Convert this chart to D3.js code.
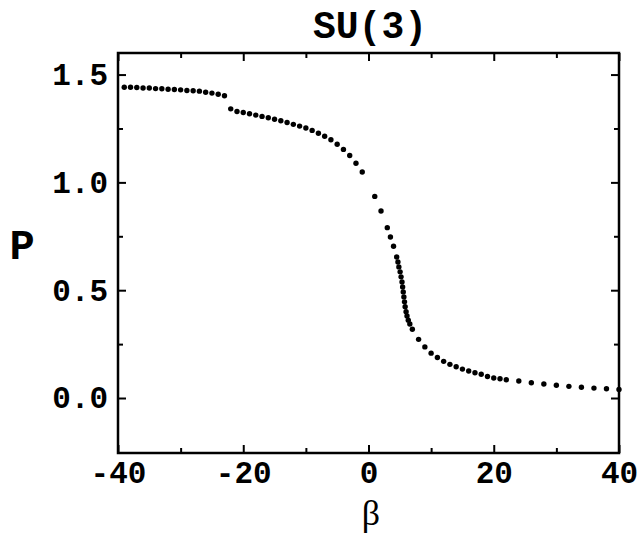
<!DOCTYPE html>
<html>
<head>
<meta charset="utf-8">
<script src="https://cdn.jsdelivr.net/npm/d3@7"></script>
<style>
  body { margin: 0; background: #fff; }
  svg { display: block; }
</style>
</head>
<body>
<svg id="chart" width="638" height="535"></svg>
<script>
// beta (coupling) and P (plaquette) values
var betaValues = [
    -39, -38, -37, -36, -35, -34, -33, -32, -31, -30, -29, -28, -27, -26, -25, -24, -23,
    -22, -21, -20, -19, -18, -17, -16, -15, -14, -13, -12, -11, -10, -9, -8, -7, -6, -5, -4, -3, -2, -1,
    1, 2, 3, 3.5, 4,
    4.5, 4.7, 4.85, 5.05, 5.2, 5.35, 5.45, 5.55, 5.65, 5.75, 5.85, 6.0, 6.15, 6.35, 6.6, 7,
    8, 9, 10, 11, 12, 13, 14, 15, 16, 17, 18, 19, 20, 21, 22,
    24, 26, 28, 30, 32, 34, 36, 38, 40
];
var pValues = [
    1.441, 1.441, 1.440, 1.438, 1.438, 1.435, 1.434, 1.432, 1.431, 1.429, 1.426, 1.425, 1.423, 1.418, 1.414, 1.409, 1.402,
    1.341, 1.329, 1.324, 1.318, 1.312, 1.306, 1.300, 1.293, 1.286, 1.278, 1.269, 1.261, 1.252, 1.241, 1.228, 1.214, 1.198, 1.177, 1.153, 1.125, 1.089, 1.048,
    0.935, 0.867, 0.790, 0.747, 0.704,
    0.654, 0.631, 0.608, 0.585, 0.562, 0.538, 0.515, 0.492, 0.469, 0.446, 0.423, 0.400, 0.380, 0.361, 0.343, 0.319,
    0.272, 0.237, 0.208, 0.188, 0.170, 0.156, 0.145, 0.134, 0.125, 0.117, 0.110, 0.100, 0.093, 0.089, 0.085,
    0.079, 0.071, 0.065, 0.059, 0.054, 0.050, 0.046, 0.043, 0.040
];

var xMajorTicks = [-40, -20, 0, 20, 40];
var xMinorTicks = [-30, -10, 10, 30];
var yMajorTicks = [0.0, 0.5, 1.0, 1.5];
var yMinorTicks = [0.25, 0.75, 1.25];

var chartTitle = "SU(3)";
var xLabel = "\u03b2";
var yLabel = "P";

var svg = d3.select("#chart");
var plotLeft = 118, plotRight = 619, plotTop = 53, plotBottom = 453;

var xScale = d3.scaleLinear().domain([-40, 40]).range([plotLeft, plotRight]);
var yScale = d3.scaleLinear().domain([-0.255, 1.6]).range([plotBottom, plotTop]);

var tickFont = "'Liberation Mono', 'Courier New', monospace";

function styleAxis(g) {
    g.select(".domain").remove();
    g.selectAll(".tick line").attr("stroke", "black").attr("stroke-width", 2);
    g.selectAll("text")
        .style("font-family", tickFont)
        .style("font-weight", "bold")
        .style("font-size", "31px")
        .attr("fill", "black");
}

// bottom axis, ticks pointing inward
svg.append("g")
    .attr("transform", "translate(0," + plotBottom + ")")
    .call(d3.axisBottom(xScale).tickValues(xMajorTicks).tickSize(-8).tickPadding(8)
        .tickFormat(function (d) { return d < 0 ? "-" + Math.abs(d) : d; }))
    .call(styleAxis);
svg.append("g")
    .attr("transform", "translate(0," + plotBottom + ")")
    .call(d3.axisBottom(xScale).tickValues(xMinorTicks).tickSize(-5).tickFormat(""))
    .call(styleAxis);
// top axis, no labels
svg.append("g")
    .attr("transform", "translate(0," + plotTop + ")")
    .call(d3.axisTop(xScale).tickValues(xMajorTicks).tickSize(-8).tickFormat(""))
    .call(styleAxis);
svg.append("g")
    .attr("transform", "translate(0," + plotTop + ")")
    .call(d3.axisTop(xScale).tickValues(xMinorTicks).tickSize(-5).tickFormat(""))
    .call(styleAxis);

// left axis
svg.append("g")
    .attr("transform", "translate(" + plotLeft + ",0)")
    .call(d3.axisLeft(yScale).tickValues(yMajorTicks).tickSize(-8).tickPadding(10)
        .tickFormat(d3.format(".1f")))
    .call(styleAxis);
svg.append("g")
    .attr("transform", "translate(" + plotLeft + ",0)")
    .call(d3.axisLeft(yScale).tickValues(yMinorTicks).tickSize(-5).tickFormat(""))
    .call(styleAxis);
// right axis
svg.append("g")
    .attr("transform", "translate(" + plotRight + ",0)")
    .call(d3.axisRight(yScale).tickValues(yMajorTicks).tickSize(-8).tickFormat(""))
    .call(styleAxis);
svg.append("g")
    .attr("transform", "translate(" + plotRight + ",0)")
    .call(d3.axisRight(yScale).tickValues(yMinorTicks).tickSize(-5).tickFormat(""))
    .call(styleAxis);

// frame
svg.append("rect")
    .attr("x", plotLeft)
    .attr("y", plotTop)
    .attr("width", plotRight - plotLeft)
    .attr("height", plotBottom - plotTop)
    .attr("fill", "none")
    .attr("stroke", "black")
    .attr("stroke-width", 2.5);

// data points
svg.append("g")
    .selectAll("circle")
    .data(betaValues)
    .enter()
    .append("circle")
    .attr("cx", function (d) { return xScale(d); })
    .attr("cy", function (d, i) { return yScale(pValues[i]); })
    .attr("r", 2.7)
    .attr("fill", "black");

// title and axis labels
svg.append("text")
    .attr("x", 370)
    .attr("y", 38)
    .attr("text-anchor", "middle")
    .style("font-family", tickFont)
    .style("font-weight", "bold")
    .style("font-size", "38px")
    .text(chartTitle);

svg.append("text")
    .attr("x", 22)
    .attr("y", 259)
    .attr("text-anchor", "middle")
    .style("font-family", tickFont)
    .style("font-weight", "bold")
    .style("font-size", "42px")
    .text(yLabel);

svg.append("text")
    .attr("x", 371)
    .attr("y", 525)
    .attr("text-anchor", "middle")
    .style("font-family", "'Liberation Serif', 'Times New Roman', serif")
    .style("font-size", "36px")
    .text(xLabel);
</script>
</body>
</html>
